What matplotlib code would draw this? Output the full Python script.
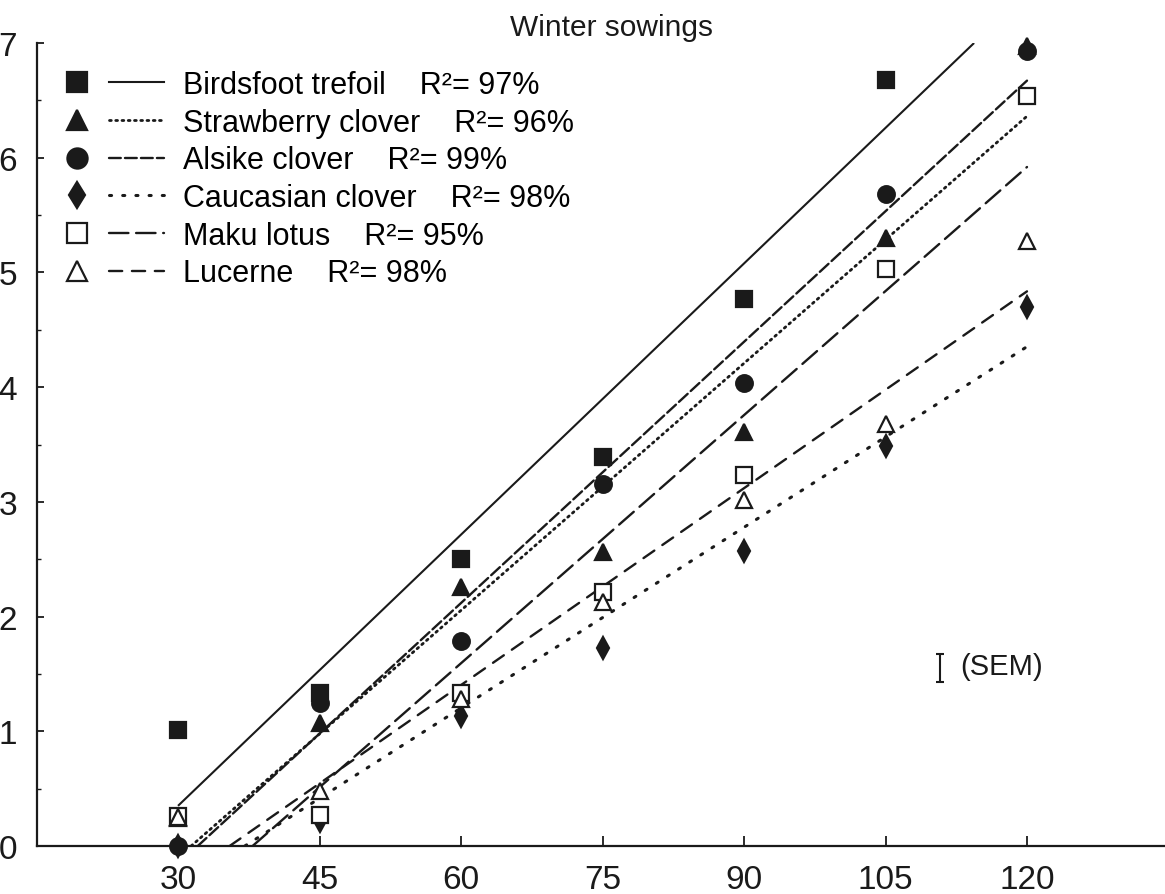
import numpy as np
import matplotlib
matplotlib.use("Agg")
import matplotlib.pyplot as plt
from matplotlib.lines import Line2D
from matplotlib.legend_handler import HandlerBase
from matplotlib.ticker import MultipleLocator

plt.rcParams['font.family'] = ['Liberation Sans', 'DejaVu Sans']
plt.rcParams['lines.scale_dashes'] = False

# days after sowing
days = [30, 45, 60, 75, 90, 105, 120]

# species, measured values (nan = off the scale)
names = ["Birdsfoot trefoil", "Strawberry clover", "Alsike clover",
         "Caucasian clover", "Maku lotus", "Lucerne"]
r2 = [97, 96, 99, 98, 95, 98]
birdsfoot = [1.01, 1.33, 2.50, 3.39, 4.77, 6.68, np.nan]
strawberry = [0.24, 1.07, 2.26, 2.56, 3.61, 5.30, 6.97]
alsike = [0.00, 1.25, 1.79, 3.16, 4.04, 5.68, 6.93]
caucasian = [0.00, 0.22, 1.13, 1.73, 2.57, 3.49, 4.70]
maku = [0.26, 0.27, 1.33, 2.21, 3.23, 5.03, 6.54]
lucerne = [0.25, 0.48, 1.28, 2.13, 3.02, 3.68, 5.27]

# fitted regression lines  y = a + b*x
intercepts = [-2.014, -2.254, -2.436, -1.947, -2.733, -2.029]
slopes = [0.0788, 0.0718, 0.0759, 0.0525, 0.0721, 0.0572]

series = [birdsfoot, strawberry, alsike, caucasian, maku, lucerne]
markers = ['s', '^', 'o', 'd', 's', '^']
filled = [True, True, True, True, False, False]
msizes = [11.5, 12, 12, 11, 11.5, 12]
styles = ['-', (0, (1.3, 3.2)), (0, (8.5, 3)), (0, (1.5, 8)), (0, (14, 5.5)), (0, (9.5, 7))]
widths = [1.5, 2.0, 1.7, 2.2, 1.7, 1.7]

ink = '#1a1a1a'


class MarkerThenLine(HandlerBase):
    """legend key: marker on the left, line sample on the right"""

    def create_artists(self, legend, orig_handle, xdescent, ydescent,
                       width, height, fontsize, trans):
        mk, ln = orig_handle
        y = height / 2 - ydescent
        x0 = -xdescent
        m = Line2D([x0 + 0.17 * width], [y])
        m.update_from(mk)
        m.set_transform(trans)
        l = Line2D([x0 + 0.47 * width, x0 + width], [y, y])
        l.update_from(ln)
        l.set_transform(trans)
        return [l, m]


fig = plt.figure(figsize=(11.65, 8.95), dpi=100)
ax = fig.add_axes([36.5 / 1165, 48 / 895, 1132 / 1165, 803 / 895])
ax.set_xlim(15, 135)
ax.set_ylim(0, 7)

handles = []
for y, m, f, ms, ls, lw, a, b in zip(series, markers, filled, msizes, styles,
                                     widths, intercepts, slopes):
    x0 = max(days[0], -a / b)
    x1 = min(days[-1], (7 - a) / b)
    xs = np.array([x0, x1])
    ax.plot(xs, a + b * xs, color=ink, lw=lw, linestyle=ls,
            dash_capstyle='round', solid_capstyle='butt', zorder=2)
    fc = ink if f else 'white'
    ax.plot(days, y, linestyle='none', marker=m, ms=ms, mfc=fc, mec=ink,
            mew=1.6, zorder=3, clip_on=False)
    mk = Line2D([], [], linestyle='none', marker=m, ms=ms + 2.5, mfc=fc, mec=ink, mew=1.6)
    ln = Line2D([], [], color=ink, lw=lw, linestyle=ls, dash_capstyle='round')
    handles.append((mk, ln))

labels = [f"{n}    R\u00b2= {v}%" for n, v in zip(names, r2)]
fig.legend(handles, labels, handler_map={tuple: MarkerThenLine()},
           loc='upper left', bbox_to_anchor=(59 / 1165, 1 - 71 / 895),
           frameon=False, fontsize=22, handlelength=3.45, handletextpad=0.62,
           labelspacing=0.25, borderpad=0, borderaxespad=0)

# standard error bar
ax.errorbar([110.8], [1.55], yerr=[0.12], fmt='none', ecolor=ink, elinewidth=1.5,
            capsize=3, capthick=1.5)
ax.text(112.9, 1.57, "(SEM)", fontsize=21, va='center', ha='left', color=ink)

fig.text(612 / 1165, 1 - 28 / 895, "Winter sowings", fontsize=21.5, ha='center',
         va='center', color=ink)

for s in ['top', 'right']:
    ax.spines[s].set_visible(False)
for s in ['left', 'bottom']:
    ax.spines[s].set_linewidth(1.6)
    ax.spines[s].set_color(ink)

ax.set_xticks(days)
ax.set_yticks(range(8))
ax.yaxis.set_minor_locator(MultipleLocator(0.5))
ax.tick_params(axis='x', direction='in', length=7, width=1.3, labelsize=24, pad=13,
               colors=ink)
ax.tick_params(axis='y', which='major', direction='in', length=5, width=1.3,
               labelsize=24, pad=14, colors=ink)
ax.tick_params(axis='y', which='minor', direction='in', length=3, width=1.0, colors=ink)

fig.savefig("out.png", dpi=100)
